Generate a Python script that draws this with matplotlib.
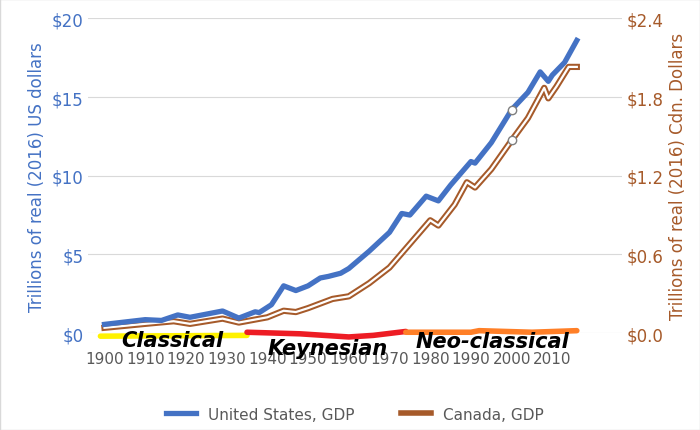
import matplotlib.pyplot as plt
from matplotlib.lines import Line2D

us_years = [1900, 1905, 1910, 1914, 1918, 1921, 1926, 1929, 1933, 1937, 1938, 1941, 1944, 1947,
            1950, 1953, 1955, 1958, 1960, 1965, 1970, 1973, 1975, 1979, 1980, 1982, 1985, 1990,
            1991, 1995, 2000, 2004, 2007, 2009, 2010, 2013, 2016]
us_gdp = [0.55, 0.7, 0.85, 0.8, 1.15, 1.0, 1.25, 1.4, 0.95, 1.35, 1.3, 1.8, 3.0, 2.7,
          3.0, 3.5, 3.6, 3.8, 4.1, 5.2, 6.4, 7.6, 7.5, 8.7, 8.6, 8.4, 9.4, 10.9,
          10.8, 12.1, 14.2, 15.3, 16.6, 16.0, 16.4, 17.2, 18.6]

ca_years = [1900, 1910, 1917, 1921, 1929, 1933, 1940, 1944, 1947, 1950, 1956, 1960, 1965, 1970,
            1975, 1980, 1982, 1986, 1989, 1991, 1995, 2000, 2004, 2008, 2009, 2011, 2014, 2016]
ca_gdp = [0.04, 0.07, 0.09, 0.07, 0.11, 0.08, 0.12, 0.17, 0.16, 0.19, 0.26, 0.28, 0.38, 0.5,
          0.68, 0.86, 0.82, 0.98, 1.15, 1.11, 1.25, 1.47, 1.64, 1.87, 1.79, 1.88, 2.03, 2.03]

eras = ["Classical", "Keynesian", "Neo-classical"]
era_x = [[1899, 1935], [1935, 1948, 1960, 1966, 1974], [1974, 1990, 1992, 2005, 2016]]
era_y = [[-0.2, -0.15], [0.05, -0.05, -0.25, -0.15, 0.1], [0.05, 0.05, 0.15, 0.05, 0.15]]
era_colors = ["#FFF200", "#ED1C24", "#FF7F27"]

blue = "#4472C4"
brown = "#A65A2A"

fig, ax = plt.subplots(figsize=(7, 4.31), dpi=100)
fig.subplots_adjust(left=0.126, right=0.888, top=0.955, bottom=0.225)
ax2 = ax.twinx()

for a in (ax, ax2):
    for s in a.spines.values():
        s.set_visible(False)

ax.set_xlim(1896, 2027)
ax.set_ylim(0, 20)
ax2.set_ylim(0, 2.4)
ax.set_yticks([0, 5, 10, 15, 20])
ax.set_yticklabels([f"${v}" for v in [0, 5, 10, 15, 20]], color=blue, fontsize=12)
ax2.set_yticks([0, 0.6, 1.2, 1.8, 2.4])
ax2.set_yticklabels([f"${v:.1f}" for v in [0, 0.6, 1.2, 1.8, 2.4]], color=brown, fontsize=12)
ax.set_xticks(range(1900, 2011, 10))
ax.tick_params(axis="x", colors="#595959", labelsize=11, length=0, pad=13)
ax.tick_params(axis="y", length=0)
ax2.tick_params(axis="y", length=0)
ax.grid(axis="y", color="#D9D9D9", lw=0.8)
ax.set_axisbelow(True)
ax.set_ylabel("Trillions of real (2016) US dollars", color=blue, fontsize=12)
ax2.set_ylabel("Trillions of real (2016) Cdn. Dollars", color=brown, fontsize=12)
ax2.set_zorder(ax.get_zorder() + 1)
ax2.patch.set_visible(False)

ax2.plot(ca_years, ca_gdp, color=brown, lw=4.5, solid_joinstyle="round")
ax2.plot(ca_years, ca_gdp, color="white", lw=1.6, solid_joinstyle="round")
ax2.plot([2000], [ca_gdp[ca_years.index(2000)]], "o", mfc="white", mec="#7F7F7F", ms=6)

ax2.plot(us_years, [v * 0.12 for v in us_gdp], color=blue, lw=3.8)
ax2.plot([2000], [us_gdp[us_years.index(2000)] * 0.12], "o", mfc="white", mec="#7F7F7F", ms=6)

# era bands along the zero line
text_x = [1904, 1940, 1976.5]
text_y = [-0.45, -0.95, -0.5]
for xs, ys, c, name, tx, ty in zip(era_x, era_y, era_colors, eras, text_x, text_y):
    ax2.plot(xs, [y * 0.12 for y in ys], color=c, lw=4, clip_on=False, solid_capstyle="round")
    ax2.text(tx, ty * 0.12, name, fontsize=15, fontweight="bold", style="italic", clip_on=False,
             va="center", ha="left", zorder=5)

handles = [Line2D([], [], color=blue, lw=3.8),
           Line2D([], [], color=brown, lw=4)]
ax.legend(handles, ["United States, GDP", "Canada, GDP"], loc="upper center",
          bbox_to_anchor=(0.5, -0.19), ncol=2, frameon=False, fontsize=11,
          labelcolor="#595959", columnspacing=3)

fig.patches.append(plt.Rectangle((0, 0), 1, 1, transform=fig.transFigure, fill=False,
                                 ec="#D9D9D9", lw=1))
fig.savefig("out.png")
